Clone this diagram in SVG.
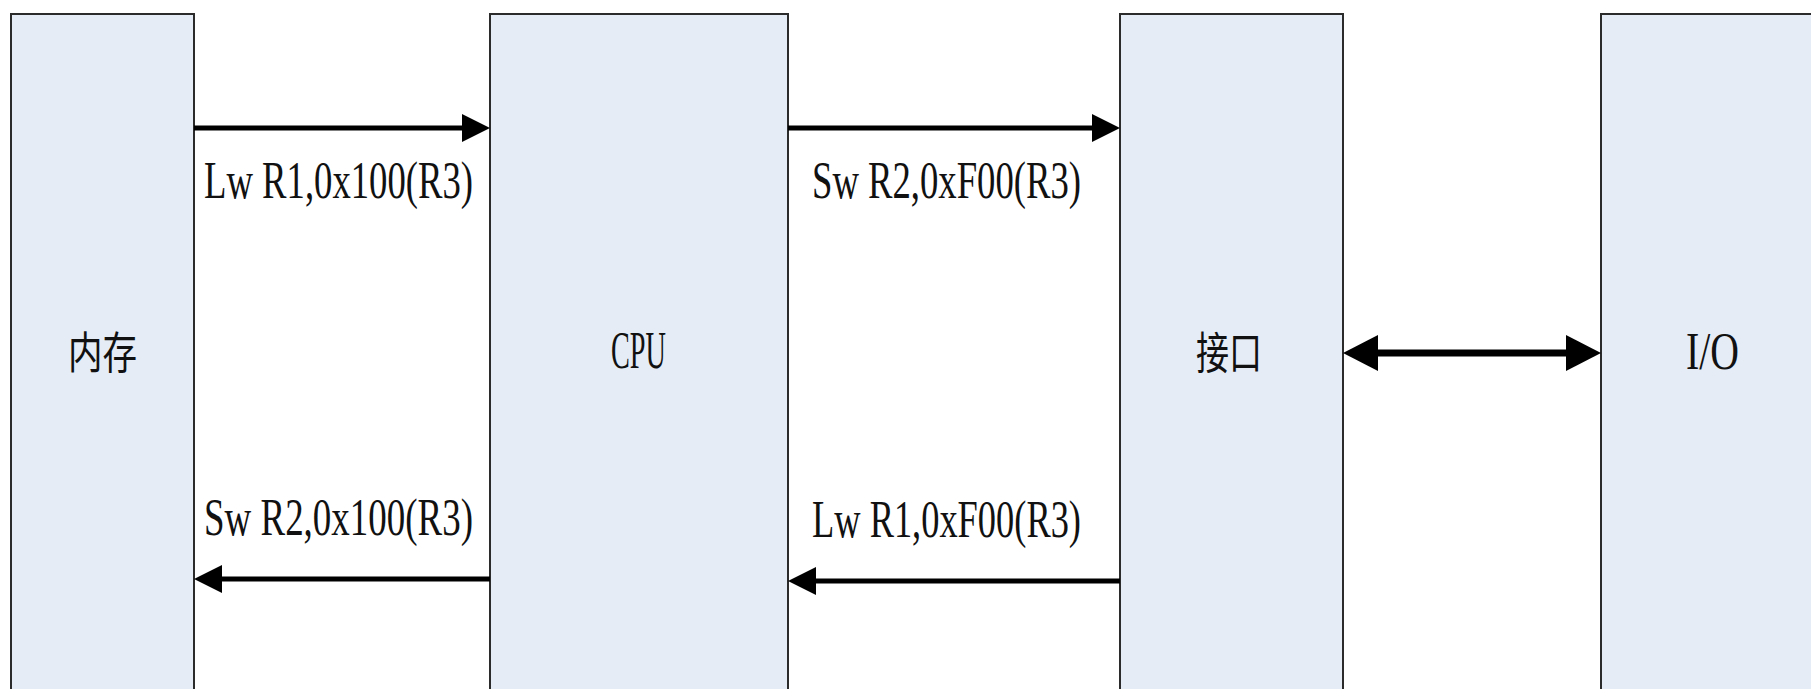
<svg xmlns="http://www.w3.org/2000/svg" width="1811" height="689" viewBox="0 0 1811 689">
  <style>
    .box { fill: #E5ECF6; stroke: #2b2b2b; stroke-width: 2; }
    .lat { font-family: "Liberation Serif", serif; font-size: 53px; fill: #111; }
    .cjk { font-family: "Noto Sans CJK SC", "Liberation Sans", sans-serif; font-size: 44px; fill: #111; }
    .arr { stroke: #000; stroke-width: 5; fill: none; }
    .arr2 { stroke: #000; stroke-width: 7; fill: none; }
  </style>
  <defs>
    <marker id="head" markerUnits="userSpaceOnUse" markerWidth="28" markerHeight="28" refX="6" refY="14" orient="auto-start-reverse" viewBox="0 0 28 28">
      <path d="M0,0 L28,14 L0,28 z" fill="#000"/>
    </marker>
    <marker id="headBig" markerUnits="userSpaceOnUse" markerWidth="35" markerHeight="36" refX="8" refY="18" orient="auto-start-reverse" viewBox="0 0 35 36">
      <path d="M0,0 L35,18 L0,36 z" fill="#000"/>
    </marker>
  </defs>
  <rect width="1811" height="689" fill="#fff"/>

  <g id="node-memory">
    <rect class="box" x="11" y="14" width="183" height="700"/>
    <text class="cjk" x="68" y="369" textLength="69" lengthAdjust="spacingAndGlyphs">内存</text>
  </g>
  <g id="node-cpu">
    <rect class="box" x="490" y="14" width="298" height="700"/>
    <text class="lat" x="611" y="368" textLength="55" lengthAdjust="spacingAndGlyphs">CPU</text>
  </g>
  <g id="node-interface">
    <rect class="box" x="1120" y="14" width="223" height="700"/>
    <text class="cjk" x="1196" y="369" textLength="66" lengthAdjust="spacingAndGlyphs">接口</text>
  </g>
  <g id="node-io">
    <rect class="box" x="1601" y="14" width="240" height="700"/>
    <text class="lat" x="1686" y="369" textLength="53" lengthAdjust="spacingAndGlyphs">I/O</text>
  </g>

  <g id="connectors">
    <line class="arr" x1="194" y1="128" x2="468" y2="128" marker-end="url(#head)"/>
    <line class="arr" x1="788" y1="128" x2="1098" y2="128" marker-end="url(#head)"/>
    <line class="arr" x1="490" y1="579" x2="216" y2="579" marker-end="url(#head)"/>
    <line class="arr" x1="1120" y1="581" x2="810" y2="581" marker-end="url(#head)"/>
    <line class="arr2" x1="1370" y1="353" x2="1574" y2="353" marker-start="url(#headBig)" marker-end="url(#headBig)"/>
  </g>

  <g id="labels">
    <text class="lat" x="204" y="198" textLength="269" lengthAdjust="spacingAndGlyphs">Lw R1,0x100(R3)</text>
    <text class="lat" x="812" y="198" textLength="269" lengthAdjust="spacingAndGlyphs">Sw R2,0xF00(R3)</text>
    <text class="lat" x="204" y="535" textLength="269" lengthAdjust="spacingAndGlyphs">Sw R2,0x100(R3)</text>
    <text class="lat" x="812" y="537" textLength="269" lengthAdjust="spacingAndGlyphs">Lw R1,0xF00(R3)</text>
  </g>
</svg>
